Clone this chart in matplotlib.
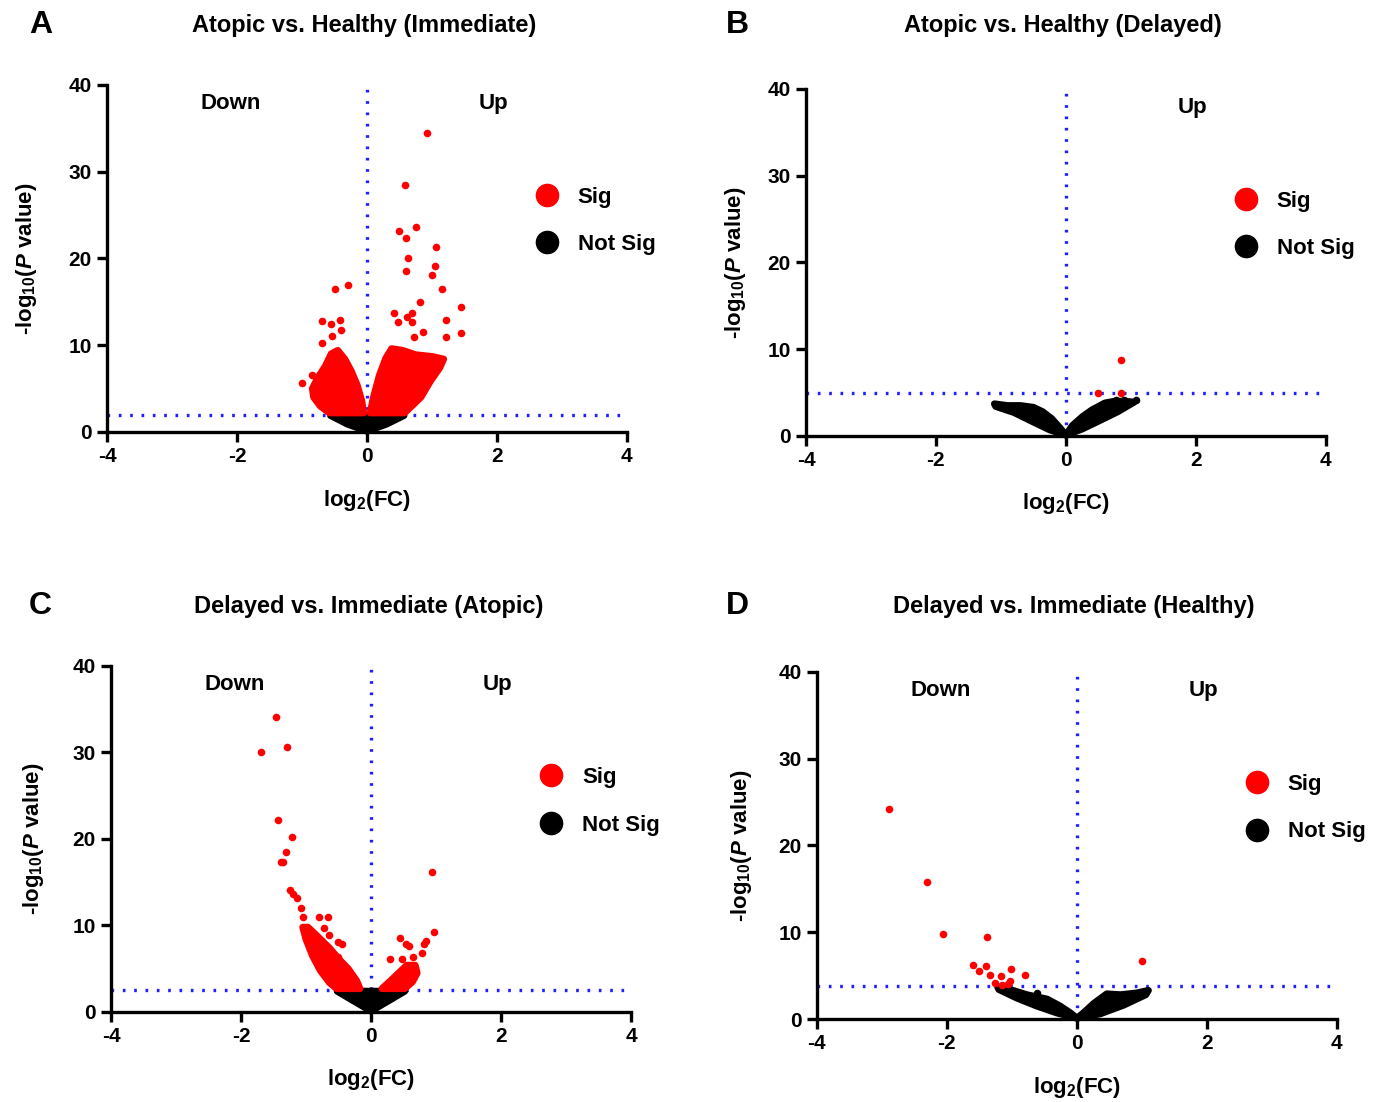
import matplotlib
matplotlib.use("Agg")
import matplotlib.pyplot as plt
from matplotlib.lines import Line2D

plt.rcParams["font.family"] = ["Liberation Sans", "DejaVu Sans"]
plt.rcParams["font.weight"] = "bold"
plt.rcParams["axes.unicode_minus"] = False
plt.rcParams["mathtext.fontset"] = "custom"
plt.rcParams["mathtext.rm"] = "Liberation Sans:bold"
plt.rcParams["mathtext.it"] = "Liberation Sans:italic:bold"
plt.rcParams["mathtext.bf"] = "Liberation Sans:bold"

RED = "#ff0000"
BLUE = "#1f1fff"

# ---- Panel A: Atopic vs. Healthy (Immediate) ----
A_SIG_X = [0.92, 0.59, 0.49, 0.75, 0.60, 1.06, 0.63, 1.04, 0.60, 1.00, 1.16, -0.49, -0.29,
           0.82, 1.44, -0.69, -0.41, -0.55, -0.40, -0.54, -0.69, 0.41, 0.48, 0.61, 0.69,
           0.69, 1.22, 1.44, 1.22, 0.86, 0.72, -1.00, -0.85]
A_SIG_Y = [34.5, 28.5, 23.2, 23.6, 22.3, 21.3, 20.1, 19.1, 18.6, 18.1, 16.5, 16.5, 16.9,
           15.0, 14.4, 12.8, 12.9, 12.5, 11.7, 11.1, 10.2, 13.7, 12.7, 13.3, 13.75,
           12.7, 12.9, 11.4, 11.0, 11.5, 10.9, 5.7, 6.6]
# dense clouds (outline of the packed dots)
A_DOWN_X = [-0.58, -0.72, -0.82, -0.84, -0.76, -0.64, -0.55, -0.45, -0.34, -0.24, -0.15, -0.08, -0.05]
A_DOWN_Y = [2.2, 3.0, 4.0, 5.0, 6.2, 7.6, 9.0, 9.4, 8.4, 7.0, 5.4, 3.6, 2.2]
A_UP_X = [0.05, 0.10, 0.19, 0.29, 0.38, 0.55, 0.75, 1.00, 1.18, 1.12, 0.98, 0.83, 0.58]
A_UP_Y = [2.2, 4.0, 6.5, 8.5, 9.6, 9.4, 8.9, 8.7, 8.4, 7.4, 5.9, 4.0, 2.2]
A_NS_X = [-0.56, -0.30, 0.0, 0.30, 0.57]
A_NS_Y = [1.9, 0.9, 0.1, 0.9, 1.9]

# ---- Panel B: Atopic vs. Healthy (Delayed) ----
B_SIG_X = [0.85, 0.49, 0.85]
B_SIG_Y = [8.8, 5.0, 5.0]
B_NSPT_X = [0.77, 0.90, 1.08]
B_NSPT_Y = [4.1, 4.2, 4.1]
B_NS_LEFT_X = [-1.10, -0.90, -0.70, -0.50, -0.36, -0.22, -0.10, 0.0, -0.25, -0.50, -0.80, -1.08]
B_NS_LEFT_Y = [3.7, 3.5, 3.5, 3.3, 2.8, 2.0, 1.0, 0.1, 0.7, 1.6, 2.7, 3.4]
B_NS_RIGHT_X = [0.0, 0.10, 0.25, 0.40, 0.50, 0.60, 0.75, 0.90, 1.05, 0.80, 0.50, 0.25]
B_NS_RIGHT_Y = [0.1, 1.2, 2.2, 3.0, 3.4, 3.8, 4.0, 4.0, 3.9, 2.8, 1.7, 0.8]

# ---- Panel C: Delayed vs. Immediate (Atopic) ----
C_SIG_X = [-1.46, -1.69, -1.29, -1.43, -1.22, -1.30, -1.38, -1.35, 0.94, -1.24, -1.20, -1.14,
           -1.07, -1.04, -0.80, -0.66, -0.72, -0.65, -0.50, -0.45, -0.62, -0.51, 0.44, 0.97,
           0.54, 0.59, 0.84, 0.81, 0.30, 0.47, 0.64, 0.79]
C_SIG_Y = [34.1, 30.0, 30.6, 22.2, 20.2, 18.5, 17.3, 17.3, 16.2, 14.1, 13.6, 13.2,
           12.0, 11.0, 11.0, 11.0, 9.7, 8.9, 8.1, 7.8, 6.5, 6.3, 8.55, 9.2,
           7.9, 7.6, 8.2, 7.8, 6.1, 6.1, 6.3, 6.8]
C_DOWN_X = [-1.05, -1.00, -0.90, -0.78, -0.64, -0.53, -0.17, -0.22, -0.35, -0.48, -0.64, -0.83, -0.97]
C_DOWN_Y = [9.8, 8.4, 6.5, 4.8, 3.4, 2.7, 2.7, 3.6, 5.0, 6.0, 7.4, 8.8, 9.8]
C_UP_X = [0.17, 0.30, 0.44, 0.55, 0.68, 0.71, 0.64, 0.52]
C_UP_Y = [2.7, 3.6, 4.6, 5.4, 5.4, 4.5, 3.5, 2.7]
C_NS_X = [-0.52, -0.25, 0.0, 0.25, 0.52]
C_NS_Y = [2.4, 1.2, 0.1, 1.2, 2.4]

# ---- Panel D: Delayed vs. Immediate (Healthy) ----
D_SIG_X = [-2.89, -2.30, -2.06, -1.38, 1.00, -1.60, -1.40, -1.02, -1.51, -1.33, -1.17, -0.80,
           -1.03, -1.26, -1.15, -1.06]
D_SIG_Y = [24.2, 15.8, 9.8, 9.5, 6.7, 6.2, 6.1, 5.8, 5.5, 5.1, 5.0, 5.1,
           4.4, 4.2, 3.9, 4.0]
D_NSPT_X = [-0.62]
D_NSPT_Y = [3.0]
D_NS_LEFT_X = [-1.22, -1.03, -0.77, -0.46, -0.26, -0.10, 0.0, -0.31, -0.62, -0.92, -1.20]
D_NS_LEFT_Y = [3.7, 3.4, 2.8, 2.3, 1.5, 0.7, 0.1, 0.7, 1.5, 2.4, 3.4]
D_NS_RIGHT_X = [0.0, 0.10, 0.26, 0.46, 0.67, 0.92, 1.10, 1.06, 0.72, 0.36]
D_NS_RIGHT_Y = [0.1, 0.7, 1.8, 2.9, 2.8, 3.0, 3.3, 2.8, 1.6, 0.6]

PANELS = [
    dict(letter="A", title="Atopic vs. Healthy (Immediate)", thr=2.0, down=True,
         rect=[0.0769, 0.608, 0.3738, 0.315], ylab_x=-0.13, head_y=0.977, letter_x=0.029,
         sig=(A_SIG_X, A_SIG_Y), nspt=([], []),
         red_clouds=[(A_DOWN_X, A_DOWN_Y), (A_UP_X, A_UP_Y)],
         black_clouds=[(A_NS_X, A_NS_Y)]),
    dict(letter="B", title="Atopic vs. Healthy (Delayed)", thr=5.0, down=False,
         rect=[0.5794, 0.6044, 0.3738, 0.315], ylab_x=-0.111, head_y=0.977, letter_x=0.530,
         sig=(B_SIG_X, B_SIG_Y), nspt=(B_NSPT_X, B_NSPT_Y),
         red_clouds=[],
         black_clouds=[(B_NS_LEFT_X, B_NS_LEFT_Y), (B_NS_RIGHT_X, B_NS_RIGHT_Y)]),
    dict(letter="C", title="Delayed vs. Immediate (Atopic)", thr=2.5, down=True,
         rect=[0.0798, 0.0817, 0.3738, 0.314], ylab_x=-0.125, head_y=0.450, letter_x=0.029,
         sig=(C_SIG_X, C_SIG_Y), nspt=([], []),
         red_clouds=[(C_DOWN_X, C_DOWN_Y), (C_UP_X, C_UP_Y)],
         black_clouds=[(C_NS_X, C_NS_Y)]),
    dict(letter="D", title="Delayed vs. Immediate (Healthy)", thr=3.8, down=True,
         rect=[0.5873, 0.0753, 0.3738, 0.315], ylab_x=-0.121, head_y=0.450, letter_x=0.530,
         sig=(D_SIG_X, D_SIG_Y), nspt=(D_NSPT_X, D_NSPT_Y),
         red_clouds=[],
         black_clouds=[(D_NS_LEFT_X, D_NS_LEFT_Y), (D_NS_RIGHT_X, D_NS_RIGHT_Y)]),
]

fig = plt.figure(figsize=(13.91, 11.02), dpi=100)

for p in PANELS:
    ax = fig.add_axes(p["rect"])

    # threshold lines
    ax.plot([0, 0], [0, 40], color=BLUE, lw=2.4, ls=(0, (0.8, 2.6)), zorder=1)
    ax.plot([-4, 4], [p["thr"], p["thr"]], color=BLUE, lw=2.4, ls=(0, (0.8, 2.6)), zorder=1)

    # packed clouds of points
    for cx, cy in p["black_clouds"]:
        ax.fill(cx, cy, color="black", lw=5, joinstyle="round", zorder=2, clip_on=False)
    for cx, cy in p["red_clouds"]:
        ax.fill(cx, cy, color=RED, lw=5, joinstyle="round", zorder=3)

    ax.scatter(p["nspt"][0], p["nspt"][1], s=30, color="black", lw=0, zorder=3)
    ax.scatter(p["sig"][0], p["sig"][1], s=30, color=RED, lw=0, zorder=4)

    ax.set_xlim(-4, 4)
    ax.set_ylim(0, 40)
    ax.set_xticks([-4, -2, 0, 2, 4])
    ax.set_yticks([0, 10, 20, 30, 40])
    for s in ["top", "right"]:
        ax.spines[s].set_visible(False)
    for s in ["left", "bottom"]:
        ax.spines[s].set_linewidth(2.4)
    ax.tick_params(width=2.4, length=7, labelsize=15, pad=4)
    for lab in ax.get_xticklabels() + ax.get_yticklabels():
        lab.set_fontweight("bold")

    ax.set_ylabel("-log$_{10}$($P$ value)", fontsize=16, fontweight="bold")
    ax.yaxis.set_label_coords(p["ylab_x"], 0.5)
    ax.set_xlabel("log$_2$(FC)", fontsize=16, fontweight="bold")
    ax.xaxis.set_label_coords(0.5, -0.16)

    if p["down"]:
        ax.text(-2.1, 37.8, "Down", fontsize=16, fontweight="bold", ha="center", va="center")
    ax.text(1.95, 37.8, "Up", fontsize=16, fontweight="bold", ha="center", va="center")

    handles = [
        Line2D([], [], ls="none", marker="o", ms=16, color=RED, label="Sig"),
        Line2D([], [], ls="none", marker="o", ms=16, color="black", label="Not Sig"),
    ]
    ax.legend(handles=handles, loc="center left", bbox_to_anchor=(0.803, 0.608),
              frameon=False, borderpad=0, handlelength=1.0, handletextpad=0.9,
              labelspacing=1.2, prop=dict(size=16, weight="bold"))

    x0, y0, w, h = p["rect"]
    fig.text(p["letter_x"], p["head_y"], p["letter"], fontsize=23, fontweight="bold",
             ha="center", va="center")
    fig.text(x0 + w / 2 - 0.002, p["head_y"], p["title"], fontsize=17, fontweight="bold",
             ha="center", va="center")

fig.savefig("out.png", dpi=100)
